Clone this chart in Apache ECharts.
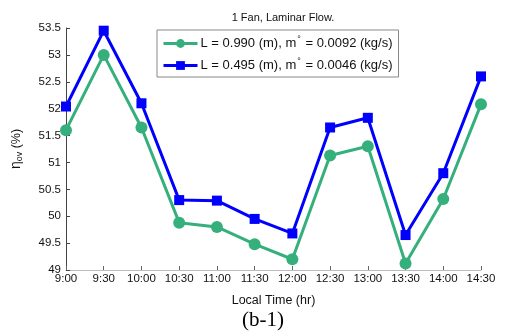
<!DOCTYPE html>
<html>
<head>
<meta charset="utf-8">
<script src="https://cdn.jsdelivr.net/npm/echarts@6/dist/echarts.min.js"></script>
<style>
  html, body { margin: 0; padding: 0; background: #fff; }
  #chart { width: 507px; height: 334px; }
</style>
</head>
<body>
<div id="chart"></div>
<script>
const times = ['9:00', '9:30', '10:00', '10:30', '11:00', '11:30', '12:00', '12:30', '13:00', '13:30', '14:00', '14:30'];
const longDuct = [51.6, 53.0, 51.65, 49.88, 49.8, 49.48, 49.2, 51.13, 51.3, 49.12, 50.32, 52.08];
const shortDuct = [52.04, 53.45, 52.1, 50.3, 50.29, 49.95, 49.68, 51.65, 51.83, 49.65, 50.8, 52.6];
const yTicks = [49, 49.5, 50, 50.5, 51, 51.5, 52, 52.5, 53, 53.5];

const chart = echarts.init(document.getElementById('chart'));
const font = 'Liberation Sans, Arial, sans-serif';

chart.setOption({
  backgroundColor: '#fff',
  animation: false,
  textStyle: { fontFamily: font },
  title: {
    text: '1 Fan, Laminar Flow.',
    left: 278, top: 7, textAlign: 'center',
    textStyle: { fontSize: 11, fontWeight: 'normal', color: '#111', fontFamily: font }
  },
  legend: {
    left: 157, top: 30,
    orient: 'vertical',
    itemGap: 7,
    itemWidth: 34, itemHeight: 11,
    padding: [5, 6, 5, 5],
    borderColor: '#888', borderWidth: 1,
    backgroundColor: '#fff',
    lineStyle: { width: 3 },
    formatter: function (name) {
      return name === 'a'
        ? 'L = 0.990 (m), m{s|°} = 0.0092 (kg/s)'
        : 'L = 0.495 (m), m{s|°} = 0.0046 (kg/s)';
    },
    textStyle: {
      fontSize: 13, color: '#111', fontFamily: font, padding: [0, 0, 0, -2],
      rich: { s: { fontSize: 9, verticalAlign: 'top', padding: [0, 1, 8, 1] } }
    }
  },
  grid: { left: 66, right: 26, top: 28, bottom: 64 },
  xAxis: {
    type: 'category',
    data: times,
    boundaryGap: false,
    name: 'Local Time (hr)',
    nameLocation: 'middle',
    nameGap: 24,
    nameTextStyle: { fontSize: 12.5, color: '#111' },
    axisLine: { lineStyle: { color: '#bbb' } },
    axisTick: { inside: true, length: 4, lineStyle: { color: '#666' } },
    axisLabel: { fontSize: 11.5, color: '#111', margin: 3, interval: 0 },
    splitLine: { show: false }
  },
  yAxis: {
    type: 'value',
    min: 49, max: 53.5, interval: 0.5,
    name: '{e|η}{sub|ov} (%)',
    nameLocation: 'middle',
    nameGap: 42,
    nameRotate: 90,
    nameTextStyle: {
      fontSize: 12.5, color: '#111',
      rich: {
        e: { fontSize: 14, color: '#111' },
        sub: { fontSize: 9, color: '#111', verticalAlign: 'bottom', padding: [6, 0, 0, 0] }
      }
    },
    axisLine: { show: true, lineStyle: { color: '#444' } },
    axisTick: { show: true, inside: true, length: 4, lineStyle: { color: '#444' } },
    axisLabel: {
      fontSize: 11.5, color: '#111', margin: 5,
      formatter: function (v) { return yTicks.indexOf(v) >= 0 ? String(v) : ''; }
    },
    splitLine: { show: false }
  },
  series: [
    {
      name: 'a', type: 'line', data: longDuct,
      symbol: 'circle', symbolSize: 12,
      itemStyle: { color: '#35b07c' },
      lineStyle: { color: '#35b07c', width: 3 },
      z: 2
    },
    {
      name: 'b', type: 'line', data: shortDuct,
      symbol: 'rect', symbolSize: 10,
      itemStyle: { color: '#0000ff' },
      lineStyle: { color: '#0000ff', width: 3 },
      z: 3
    }
  ],
  graphic: [{
    type: 'text', left: 242, top: 310,
    style: { text: '(b-1)', font: '21px "Liberation Serif", "Times New Roman", serif', fill: '#000' }
  }]
});
</script>
</body>
</html>
